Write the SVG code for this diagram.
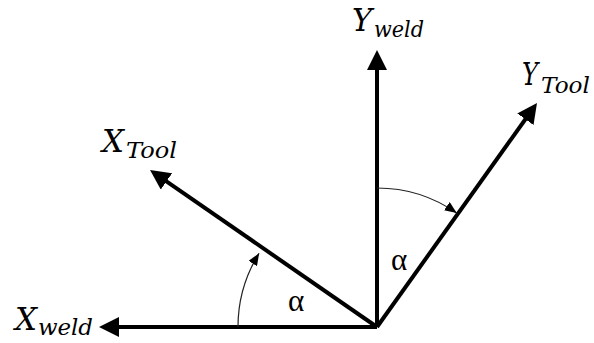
<svg xmlns="http://www.w3.org/2000/svg" width="594" height="343" viewBox="0 0 594 343">
<style>
.axis{stroke:#000;stroke-width:4;fill:none;marker-end:url(#head)}
.arc{stroke:#222;stroke-width:1.2;fill:none;marker-end:url(#small)}
.m{font-family:"DejaVu Serif","Liberation Serif",serif;font-style:italic;fill:#000}
.main{font-size:32px}
.sub{font-size:23px}
.al{font-family:"Liberation Serif","DejaVu Serif",serif;font-size:31px;fill:#000;text-anchor:middle}
</style>
<defs>
<marker id="head" viewBox="0 0 20 20" refX="4" refY="10" markerWidth="20" markerHeight="20" markerUnits="userSpaceOnUse" orient="auto">
<path d="M0,0 L20,10 L0,20 z" fill="#000"/>
</marker>
<marker id="small" viewBox="0 0 12 10" refX="12" refY="5" markerWidth="12" markerHeight="10" markerUnits="userSpaceOnUse" orient="auto">
<path d="M0,0 L12,5 L0,10 z" fill="#000"/>
</marker>
</defs>
<rect width="594" height="343" fill="#fff"/>
<g id="connectors">
<line class="axis" x1="377" y1="327" x2="115" y2="327"/>
<line class="axis" x1="377" y1="327" x2="377" y2="66"/>
<line class="axis" x1="377" y1="327" x2="163.2" y2="179.1"/>
<line class="axis" x1="377" y1="327" x2="527.7" y2="116"/>
<path class="arc" d="M238,327 A139,139 0 0 1 259.1,253.3"/>
<path class="arc" d="M377,188 A139,139 0 0 1 456.7,213.1"/>
</g>
<g id="x-weld">
<text class="m main" x="15" y="330" textLength="22" lengthAdjust="spacingAndGlyphs">X</text>
<text class="m sub" x="38" y="335" textLength="55" lengthAdjust="spacingAndGlyphs">weld</text>
</g>
<g id="y-weld">
<text class="m main" x="352" y="31" textLength="20" lengthAdjust="spacingAndGlyphs">Y</text>
<text class="m sub" x="374" y="37" textLength="50" lengthAdjust="spacingAndGlyphs">weld</text>
</g>
<g id="x-tool">
<text class="m main" x="102" y="152" textLength="22" lengthAdjust="spacingAndGlyphs">X</text>
<text class="m sub" x="126" y="158" textLength="51" lengthAdjust="spacingAndGlyphs">Tool</text>
</g>
<g id="y-tool">
<text class="m main" x="522" y="85" textLength="16" lengthAdjust="spacingAndGlyphs">Y</text>
<text class="m sub" x="541" y="93" textLength="49" lengthAdjust="spacingAndGlyphs">Tool</text>
</g>
<g id="alpha-1"><text class="al" x="296" y="311">α</text></g>
<g id="alpha-2"><text class="al" x="399" y="270">α</text></g>
</svg>
